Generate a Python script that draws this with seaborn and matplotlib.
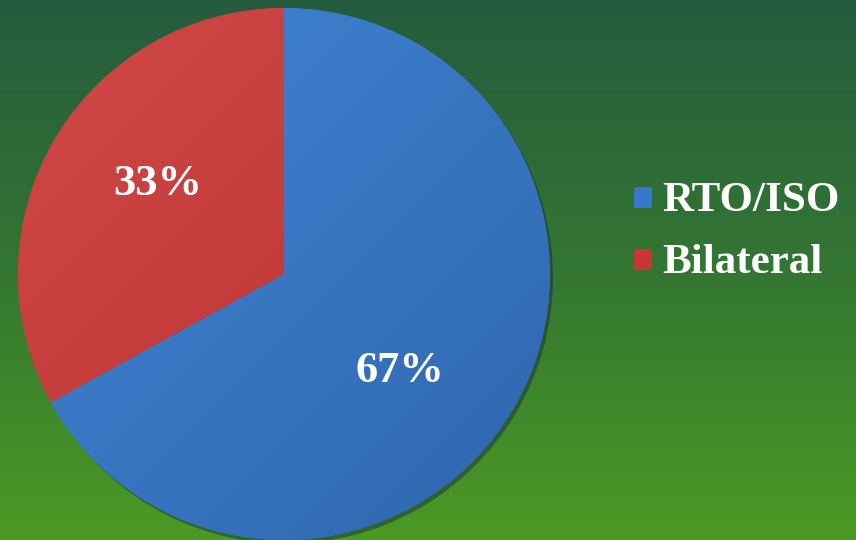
import numpy as np
import matplotlib
matplotlib.use("Agg")
import matplotlib.pyplot as plt
import seaborn as sns
from matplotlib.patches import FancyBboxPatch
import matplotlib.colors as mcolors

labels = ["RTO/ISO", "Bilateral"]
values = [67, 33]
colors = ["#3778cc", "#cc3535"]
# lighter / darker ends of the subtle gradient inside each slice
light = ["#4186d6", "#d04a48"]
dark = ["#2f66ae", "#b82c2c"]

sns.set_style("white")
plt.rcParams["font.family"] = ["Liberation Serif", "DejaVu Serif"]

fig = plt.figure(figsize=(8.56, 5.40), dpi=100)

# background gradient
bg = fig.add_axes([0, 0, 1, 1])
bg.set_axis_off()
top = np.array([36, 92, 62]) / 255
mid = np.array([52, 118, 50]) / 255
bot = np.array([76, 154, 36]) / 255
t = np.linspace(0, 1, 256)[:, None]
grad = np.where(t < 0.5, top + (mid - top) * (t / 0.5), mid + (bot - mid) * ((t - 0.5) / 0.5))
img = np.repeat(grad[:, None, :], 2, axis=1)
bg.imshow(img, aspect="auto", extent=[0, 1, 0, 1], origin="upper")
bg.set_xlim(0, 1)
bg.set_ylim(0, 1)

W, H = 856, 540
cx, cy, r = 284, 274, 266
ax = fig.add_axes([(cx - r) / W, (H - cy - r) / H, 2 * r / W, 2 * r / H])
ax.set_facecolor("none")
wedges, texts = ax.pie(values, colors=colors, startangle=90, counterclock=False,
                       radius=1, wedgeprops=dict(linewidth=0),
                       shadow=dict(ox=0.008, oy=-0.010, shade=0.7, alpha=0.45))
ax.set_xlim(-1, 1)
ax.set_ylim(-1, 1)
ax.set_axis_off()

# subtle diagonal gradient within each slice
yy, xx = np.mgrid[1:-1:200j, -1:1:200j]
s = np.clip((xx - yy) / 4 + 0.5, 0, 1)
for w, c1, c2 in zip(wedges, light, dark):
    a = np.array(mcolors.to_rgb(c1))
    b = np.array(mcolors.to_rgb(c2))
    im = ax.imshow(a + (b - a) * s[..., None], extent=[-1, 1, -1, 1], origin="upper",
                   zorder=w.get_zorder() + 0.1, interpolation="bilinear")
    im.set_clip_path(w)
ax.set_xlim(-1, 1)
ax.set_ylim(-1, 1)

# percent labels (radius, angle in degrees)
label_pos = [(0.568, -39.9), (0.582, 144.5)]
for (lr, la), v in zip(label_pos, values):
    ang = np.deg2rad(la)
    ax.text(lr * np.cos(ang), lr * np.sin(ang), f"{v}%", ha="center", va="center",
            color="white", fontsize=32, fontweight="bold", zorder=10)

# legend
leg_y = [198, 260]
for lab, c, y in zip(labels, colors, leg_y):
    fig.patches.append(FancyBboxPatch((634 / W, 1 - (y + 10) / H), 18 / W, 21 / H,
                                      boxstyle="round,pad=0,rounding_size=0.004",
                                      facecolor=c, edgecolor="none",
                                      transform=fig.transFigure))
    fig.text(662 / W, 1 - (y + 3) / H, lab, ha="left", va="center", color="white",
             fontsize=31, fontweight="bold")

fig.savefig("out.png", dpi=100)
